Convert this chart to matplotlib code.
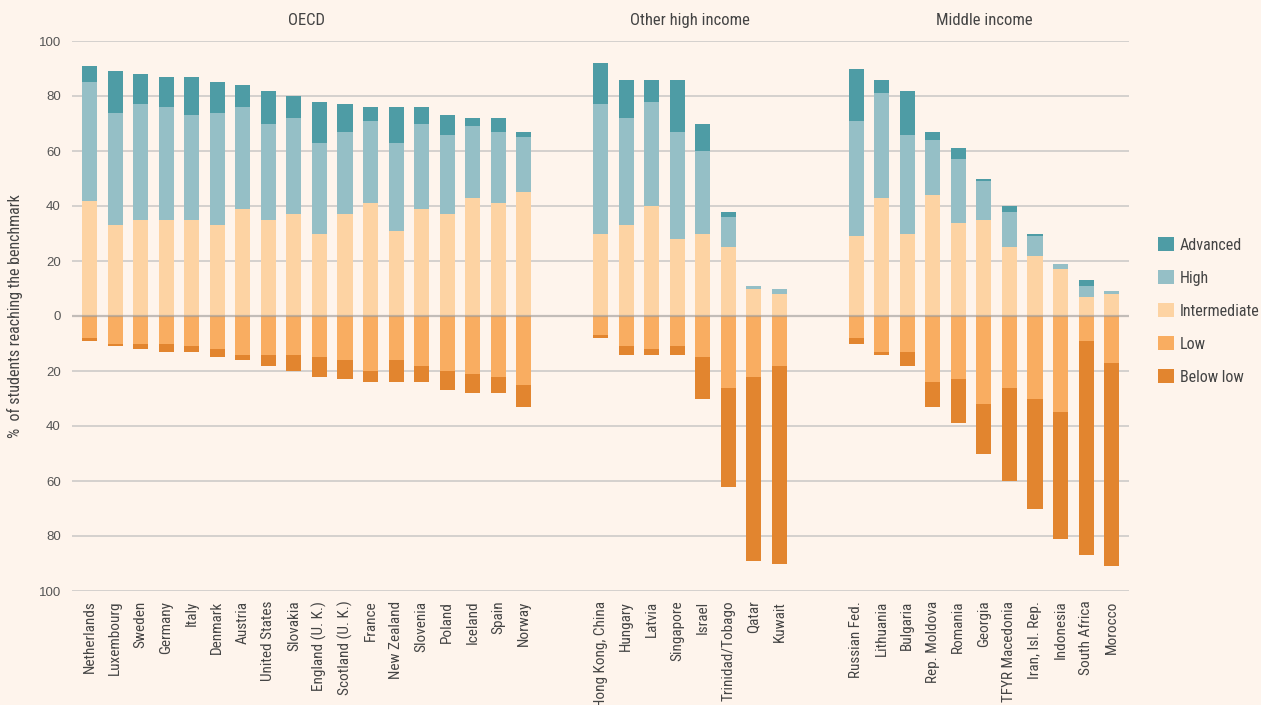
import matplotlib
matplotlib.use("Agg")
import matplotlib.pyplot as plt
from matplotlib import font_manager
from matplotlib.patches import Patch
import numpy as np

# ---- data -------------------------------------------------------------
oecd = ["Netherlands", "Luxembourg", "Sweden", "Germany", "Italy", "Denmark",
        "Austria", "United States", "Slovakia", "England (U. K.)",
        "Scotland (U. K.)", "France", "New Zealand", "Slovenia", "Poland",
        "Iceland", "Spain", "Norway"]
other_high = ["Hong Kong, China", "Hungary", "Latvia", "Singapore", "Israel",
              "Trinidad/Tobago", "Qatar", "Kuwait"]
middle = ["Russian Fed.", "Lithuania", "Bulgaria", "Rep. Moldova", "Romania",
          "Georgia", "TFYR Macedonia", "Iran, Isl. Rep.", "Indonesia",
          "South Africa", "Morocco"]

group_names = ["OECD", "Other high income", "Middle income"]

# share of students in each band (percent); low bands are plotted downward
advanced = [6, 15, 11, 11, 14, 11, 8, 12, 8, 15, 10, 5, 13, 6, 7, 3, 5, 2,
            15, 14, 8, 19, 10, 2, 0, 0,
            19, 5, 16, 3, 4, 1, 2, 1, 0, 2, 0]
high = [43, 41, 42, 41, 38, 41, 37, 35, 35, 33, 30, 30, 32, 31, 29, 26, 26, 20,
        47, 39, 38, 39, 30, 11, 1, 2,
        42, 38, 36, 20, 23, 14, 13, 7, 2, 4, 1]
intermediate = [42, 33, 35, 35, 35, 33, 39, 35, 37, 30, 37, 41, 31, 39, 37, 43, 41, 45,
                30, 33, 40, 28, 30, 25, 10, 8,
                29, 43, 30, 44, 34, 35, 25, 22, 17, 7, 8]
low = [8, 10, 10, 10, 11, 12, 14, 14, 14, 15, 16, 20, 16, 18, 20, 21, 22, 25,
       7, 11, 12, 11, 15, 26, 22, 18,
       8, 13, 13, 24, 23, 32, 26, 30, 35, 9, 17]
below_low = [1, 1, 2, 3, 2, 3, 2, 4, 6, 7, 7, 4, 8, 6, 7, 7, 6, 8,
             1, 3, 2, 3, 15, 36, 67, 72,
             2, 1, 5, 9, 16, 18, 34, 40, 46, 78, 74]

band_labels = ["Advanced", "High", "Intermediate", "Low", "Below low"]
band_colors = ["#4e9ca5", "#95bfc6", "#fdd3a3", "#f9ad61", "#e2852f"]

y_ticks = [100, 80, 60, 40, 20, 0, -20, -40, -60, -80, -100]

# ---- fonts ------------------------------------------------------------
installed = {f.name for f in font_manager.fontManager.ttflist}
narrow = [f for f in ["Liberation Sans Narrow", "DejaVu Sans Condensed",
                      "Roboto Condensed", "Liberation Sans"] if f in installed]
narrow_family = narrow + ["DejaVu Sans"]
plain_family = [f for f in ["Liberation Sans"] if f in installed] + ["DejaVu Sans"]

bg = "#fef4ec"
text_col = "#444444"
grid_col = "#cdcbc9"

# ---- layout -----------------------------------------------------------
groups = [oecd, other_high, middle]
positions = []
start = 0
group_spans = []
for g in groups:
    xs = list(range(start, start + len(g)))
    positions += xs
    group_spans.append((xs[0], xs[-1]))
    start = xs[-1] + 3
x = np.array(positions, dtype=float)
names = oecd + other_high + middle

fig = plt.figure(figsize=(12.61, 7.05), dpi=100, facecolor=bg)
ax = fig.add_axes([72 / 1261, 114 / 705, (1129 - 72) / 1261, 550 / 705])
ax.set_facecolor(bg)

width = 0.59
adv = np.array(advanced, float)
hi = np.array(high, float)
inter = np.array(intermediate, float)
lo = np.array(low, float)
bl = np.array(below_low, float)

ax.bar(x, inter, width, bottom=0, color=band_colors[2], zorder=2)
ax.bar(x, hi, width, bottom=inter, color=band_colors[1], zorder=2)
ax.bar(x, adv, width, bottom=inter + hi, color=band_colors[0], zorder=2)
ax.bar(x, -lo, width, bottom=0, color=band_colors[3], zorder=2)
ax.bar(x, -bl, width, bottom=-lo, color=band_colors[4], zorder=2)

for yv in y_ticks:
    if yv != 0:
        ax.axhline(yv, color=grid_col, lw=1.2, zorder=1)
ax.axhline(0, color="#9a9896", lw=1.6, alpha=0.6, zorder=3)

ax.set_ylim(-100, 100)
ax.set_xlim(-0.685, 40.68)
ax.set_yticks(y_ticks)
ax.set_yticklabels([str(abs(v)) for v in y_ticks], family=plain_family,
                   fontsize=9.5, color="#555555")
ax.set_xticks(x)
ax.set_xticklabels(names, rotation=90, family=narrow_family, fontsize=11,
                   color=text_col, va="top", ha="center")
ax.tick_params(axis="both", length=0)
ax.tick_params(axis="y", pad=8)
ax.tick_params(axis="x", pad=7)
for s in ax.spines.values():
    s.set_visible(False)

ax.set_ylabel("%  of students reaching the benchmark", family=narrow_family,
              fontsize=11.5, color=text_col, labelpad=11)

trans = ax.get_xaxis_transform()
for name, (a, b) in zip(group_names, group_spans):
    ax.text((a + b) / 2, 1.038, name, transform=trans, ha="center",
            va="center", family=narrow_family, fontsize=12, color=text_col)

handles = [Patch(facecolor=c, edgecolor="none") for c in band_colors]
leg = fig.legend(handles, band_labels, loc="upper left",
                 bbox_to_anchor=(1152 / 1261, 1 - 231 / 705),
                 frameon=False, prop={"family": narrow_family, "size": 11.5},
                 handlelength=0.95, handleheight=0.95, handletextpad=0.4,
                 labelspacing=1.1, borderaxespad=0)
for t in leg.get_texts():
    t.set_color(text_col)

fig.savefig("out.png", dpi=100, facecolor=bg)
